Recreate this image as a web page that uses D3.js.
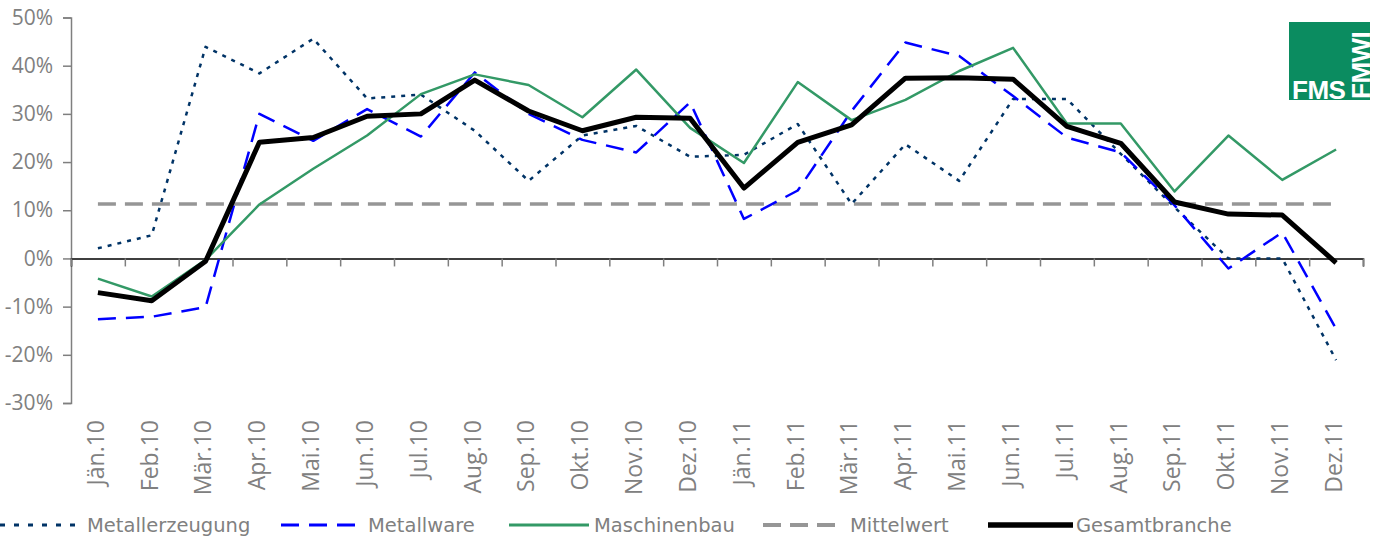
<!DOCTYPE html>
<html>
<head>
<meta charset="utf-8">
<script src="https://cdn.jsdelivr.net/npm/d3@7"></script>
<style>
  body { margin: 0; background: #fff; }
  svg { display: block; }
</style>
</head>
<body>
<div id="chart"></div>
<script>
// data (values in %)
var months = ["Jän.10", "Feb.10", "Mär.10", "Apr.10", "Mai.10", "Jun.10", "Jul.10", "Aug.10", "Sep.10", "Okt.10", "Nov.10", "Dez.10",
              "Jän.11", "Feb.11", "Mär.11", "Apr.11", "Mai.11", "Jun.11", "Jul.11", "Aug.11", "Sep.11", "Okt.11", "Nov.11", "Dez.11"];

var metallerzeugung = [2.1, 4.8, 43.9, 38.4, 45.6, 33.2, 34.0, 26.5, 16.1, 25.5, 27.5, 21.1,
                       21.5, 27.9, 11.3, 23.7, 16.1, 33.1, 33.1, 21.7, 10.6, 0.0, 0.0, -21.1];
var metallware = [-12.6, -12.1, -10.1, 30.0, 24.4, 31.0, 25.3, 38.6, 30.0, 24.6, 22.0, 32.4,
                  8.2, 14.1, 30.6, 44.8, 42.0, 33.7, 25.1, 22.0, 11.0, -2.1, 5.4, -14.6];
var maschinenbau = [-4.2, -7.9, -0.3, 11.2, 18.6, 25.5, 34.1, 38.2, 36.0, 29.3, 39.2, 27.1,
                    19.8, 36.6, 28.7, 32.9, 38.9, 43.7, 28.0, 28.0, 13.9, 25.5, 16.3, 22.6];
var mittelwert = 11.3;
var gesamtbranche = [-7.1, -8.8, -0.6, 24.1, 25.1, 29.5, 30.0, 37.0, 30.6, 26.5, 29.3, 29.1,
                     14.6, 24.1, 27.7, 37.4, 37.5, 37.2, 27.4, 23.9, 11.7, 9.2, 9.0, -0.9];

var yTicks = [-30, -20, -10, 0, 10, 20, 30, 40, 50];

var W = 1385, H = 543;
var plotLeft = 71, plotRight = 1363, plotTop = 17.5, plotBottom = 403;

var svg = d3.select("#chart").append("svg")
    .attr("width", W)
    .attr("height", H);

var x = d3.scaleBand().domain(months).range([plotLeft, plotRight]);
var xEdge = d3.scaleLinear().domain([0, months.length]).range([plotLeft, plotRight]);
var y = d3.scaleLinear().domain([-30, 50]).range([plotBottom, plotTop]);
var cx = function (m) { return x(m) + x.bandwidth() / 2; };

// y axis
var yAxis = svg.append("g")
    .attr("transform", "translate(" + plotLeft + ",0)")
    .call(d3.axisLeft(y).tickValues(yTicks).tickSize(8).tickPadding(10)
        .tickFormat(function (d) { return d + "%"; }));
yAxis.select(".domain").attr("stroke", "#7f7f7f").attr("stroke-width", 1.5);
yAxis.selectAll(".tick line").attr("stroke", "#7f7f7f").attr("stroke-width", 1.5);
yAxis.selectAll(".tick text")
    .attr("fill", "#808080")
    .style("font-family", "'Open Sans', sans-serif")
    .style("font-size", "21px");

// x axis at 0 with boundary ticks
var xAxis = svg.append("g")
    .attr("transform", "translate(0," + y(0) + ")")
    .call(d3.axisBottom(xEdge).tickValues(d3.range(0, months.length + 1)).tickSize(8).tickFormat(""));
xAxis.select(".domain").attr("stroke", "#000").attr("stroke-width", 1.5);
xAxis.selectAll(".tick line").attr("stroke", "#7f7f7f").attr("stroke-width", 1.5);

// month labels below the plot
svg.append("g").selectAll("text")
    .data(months)
    .enter().append("text")
    .attr("transform", function (d) { return "translate(" + cx(d) + ",420) rotate(-90)"; })
    .attr("dy", "0.25em")
    .attr("text-anchor", "end")
    .attr("fill", "#808080")
    .style("font-family", "'Open Sans', sans-serif")
    .style("font-size", "23px")
    .text(function (d) { return d; });

// series
var series = [
    { name: "Metallerzeugung", values: metallerzeugung, color: "#003366", width: 2.5, dash: "4,6" },
    { name: "Metallware", values: metallware, color: "#0000ff", width: 2.5, dash: "18,10" },
    { name: "Maschinenbau", values: maschinenbau, color: "#339966", width: 2.5, dash: null },
    { name: "Mittelwert", values: months.map(function () { return mittelwert; }), color: "#969696", width: 3.5, dash: "18,9" },
    { name: "Gesamtbranche", values: gesamtbranche, color: "#000000", width: 5, dash: null }
];

var line = d3.line()
    .x(function (d, i) { return cx(months[i]); })
    .y(function (d) { return y(d); });

// mean line first, then the others on top
var drawOrder = [3, 0, 1, 2, 4];
drawOrder.forEach(function (k) {
    var s = series[k];
    svg.append("path")
        .datum(s.values)
        .attr("d", line)
        .attr("fill", "none")
        .attr("stroke", s.color)
        .attr("stroke-width", s.width)
        .attr("stroke-linejoin", "round")
        .attr("stroke-dasharray", s.dash);
});

// legend
var legendPos = [
    { x0: 0, x1: 84, tx: 87 },
    { x0: 281, x1: 355, tx: 368 },
    { x0: 509, x1: 589, tx: 594 },
    { x0: 763, x1: 836, tx: 850 },
    { x0: 988, x1: 1073, tx: 1076 }
];
var legend = svg.append("g").attr("class", "legend");
series.forEach(function (s, i) {
    var p = legendPos[i];
    legend.append("line")
        .attr("x1", p.x0).attr("x2", p.x1)
        .attr("y1", 525).attr("y2", 525)
        .attr("stroke", s.color)
        .attr("stroke-width", s.width + 0.5)
        .attr("stroke-dasharray", i === 0 ? "5,9" : s.dash);
    legend.append("text")
        .attr("x", p.tx)
        .attr("y", 532)
        .attr("fill", "#808080")
        .style("font-family", "'DejaVu Sans', sans-serif")
        .style("font-size", "19.5px")
        .text(s.name);
});

// logo
var logo = svg.append("g");
logo.append("rect")
    .attr("x", 1289).attr("y", 22)
    .attr("width", 81).attr("height", 78)
    .attr("fill", "#0b8c60");
logo.append("text")
    .attr("x", 1292).attr("y", 99)
    .attr("fill", "#fff")
    .style("font-family", "'Liberation Sans', Arial, sans-serif")
    .style("font-weight", "bold")
    .style("font-size", "26px")
    .style("letter-spacing", "-0.5px")
    .text("FMS");
logo.append("text")
    .attr("transform", "translate(1370,99) rotate(-90)")
    .attr("fill", "#fff")
    .style("font-family", "'Liberation Sans', Arial, sans-serif")
    .style("font-weight", "bold")
    .style("font-size", "26px")
    .style("letter-spacing", "-0.5px")
    .text("FMWI");
</script>
</body>
</html>
